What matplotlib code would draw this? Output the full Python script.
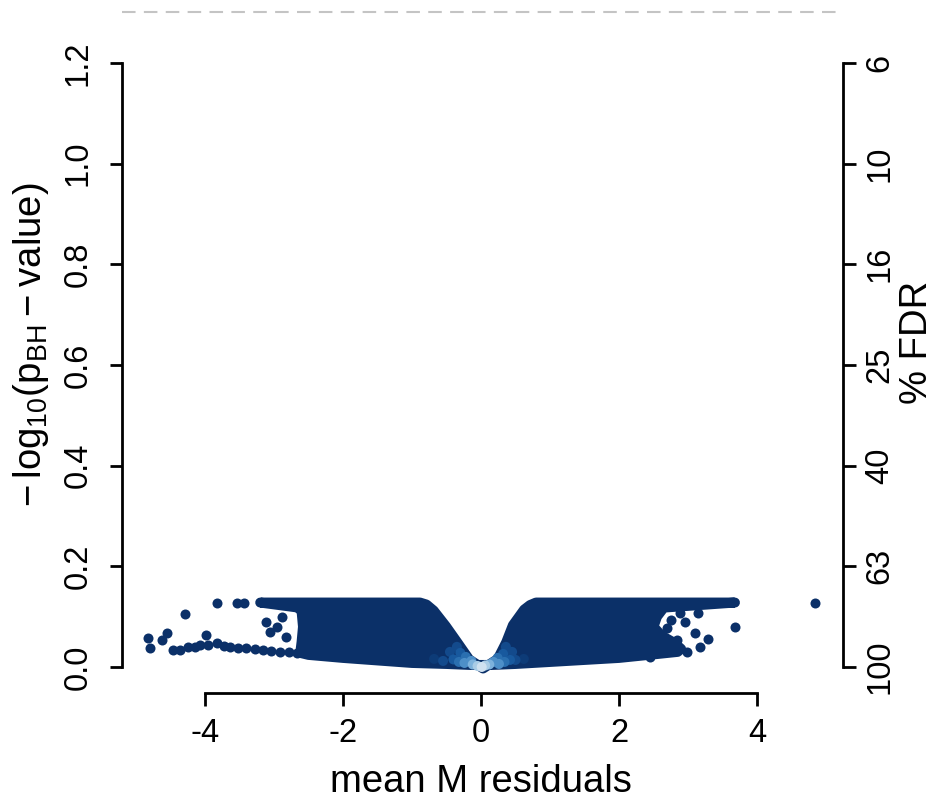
import matplotlib
matplotlib.use('Agg')
import matplotlib.pyplot as plt
import numpy as np

plt.rcParams['font.family'] = ['Liberation Sans', 'DejaVu Sans']
plt.rcParams['axes.unicode_minus'] = False
plt.rcParams['mathtext.fontset'] = 'custom'
plt.rcParams['mathtext.rm'] = 'Liberation Sans'

# dense part of the cloud: outline of the point centres
env_x = [-3.20, -0.884, -0.79, -0.686, -0.509, -0.339, -0.171, 0.03,
         0.243, 0.365, 0.462, 0.625, 0.71, 0.797, 3.68,
         2.65, 2.55, 2.50, 2.62, 2.80, 2.90, 2.85,
         2.50, 2.00, 1.50, 1.00, 0.50, 0.15, -0.15, -0.50, -1.00, -1.50, -2.00, -2.50, -2.62,
         -2.60, -2.58, -2.60, -2.65]
env_y = [0.128, 0.128, 0.124, 0.112, 0.081, 0.048, 0.015, -0.003,
         0.016, 0.049, 0.083, 0.114, 0.123, 0.128, 0.128,
         0.118, 0.100, 0.080, 0.062, 0.048, 0.036, 0.030,
         0.025, 0.018, 0.014, 0.010, 0.006, 0.004, 0.004, 0.006, 0.008, 0.013, 0.018, 0.024, 0.028,
         0.050, 0.080, 0.110, 0.118]

# sparse points outside the dense cloud
out_x = [-3.83, -3.54, -3.44, -4.29, -4.82, -4.80, -4.63, -4.55, -4.46, -4.36,
         -3.98, -4.07, -3.83, -3.11, -3.06, -2.96, -2.89, -2.82,
         -4.25, -4.15, -3.95, -3.72, -3.64, -3.52, -3.40, -3.28, -3.16, -3.04, -2.91, -2.79, -2.67,
         4.84, 3.68, 3.15, 2.96, 3.10, 3.29, 3.17, 2.98, 2.84, 2.88, 2.76, 2.69, 2.62, 2.45]
out_y = [0.128, 0.128, 0.128, 0.105, 0.057, 0.037, 0.054, 0.068, 0.034, 0.034,
         0.064, 0.044, 0.048, 0.090, 0.070, 0.080, 0.100, 0.060,
         0.040, 0.040, 0.044, 0.042, 0.040, 0.038, 0.037, 0.035, 0.034, 0.032, 0.030, 0.029, 0.027,
         0.128, 0.080, 0.107, 0.090, 0.067, 0.055, 0.040, 0.030, 0.054, 0.107, 0.093, 0.077, 0.030, 0.020]

# high density points near the origin (lighter colours)
glow_x = [-0.68, 0.62,
          -0.55, -0.45, -0.35, 0.36, 0.45, 0.50,
          -0.40, -0.30, 0.32, 0.42,
          -0.32, -0.22, 0.24, 0.34,
          -0.24, -0.14, 0.18, 0.26,
          -0.12, 0.12,
          -0.05, 0.06, 0.01]
glow_y = [0.016, 0.016,
          0.012, 0.030, 0.040, 0.040, 0.030, 0.014,
          0.015, 0.028, 0.026, 0.014,
          0.010, 0.020, 0.018, 0.010,
          0.008, 0.012, 0.010, 0.006,
          0.005, 0.005,
          0.002, 0.003, 0.000]
glow_c = ['#0D3B77'] * 2 + ['#134A8C'] * 6 + ['#18599E'] * 4 + ['#2A6FB0'] * 4 + \
         ['#4D8FC8'] * 4 + ['#7DB2DC'] * 2 + ['#A9CCE6'] * 2 + ['#CFE1F0']

y_ticks = [0.0, 0.2, 0.4, 0.6, 0.8, 1.0, 1.2]
y_labels = ['0.0', '0.2', '0.4', '0.6', '0.8', '1.0', '1.2']
fdr_labels = ['100', '63', '40', '25', '16', '10', '6']
x_ticks = [-4, -2, 0, 2, 4]
x_labels = ['-4', '-2', '0', '2', '4']
fdr_line = -np.log10(0.05)

navy = '#0B3068'
fig = plt.figure(figsize=(9.35, 8), dpi=100)
ax = fig.add_axes([122 / 935, 1 - 693 / 800, (843 - 122) / 935, 693 / 800])
ax.set_xlim(-5.203, 5.246)
ax.set_ylim(-0.0517, 1.3252)

ax.fill(env_x, env_y, facecolor=navy, edgecolor=navy, linewidth=7.2, joinstyle='round', zorder=2)
ax.scatter(out_x, out_y, s=52, color=navy, linewidths=0, zorder=3)
ax.scatter(glow_x, glow_y, s=52, c=glow_c, linewidths=0, zorder=4)
ax.axhline(fdr_line, color='#C4C4C4', linewidth=1.5, linestyle=(0, (6.5, 4)), zorder=1)

for s in ['top', 'right']:
    ax.spines[s].set_visible(False)
ax.spines['left'].set_bounds(0, 1.2)
ax.spines['bottom'].set_bounds(-4, 4)
for s in ['left', 'bottom']:
    ax.spines[s].set_linewidth(2)

ax.set_xticks(x_ticks)
ax.set_xticklabels(x_labels, fontsize=23.5)
ax.set_yticks(y_ticks)
ax.set_yticklabels(y_labels, fontsize=23.5, rotation=90, va='center')
ax.tick_params(direction='out', length=9, width=2)
ax.tick_params(axis='x', pad=9)
ax.tick_params(axis='y', pad=11.5)

ax2 = ax.twinx()
ax2.set_ylim(ax.get_ylim())
for s in ['top', 'left', 'bottom']:
    ax2.spines[s].set_visible(False)
ax2.spines['right'].set_bounds(0, 1.2)
ax2.spines['right'].set_linewidth(2)
ax2.set_yticks(y_ticks)
ax2.set_yticklabels(fdr_labels, fontsize=23.5, rotation=90, va='center')
ax2.tick_params(direction='out', length=9, width=2, pad=6.5)

fig.text(481 / 935, 1 - 782 / 800, 'mean M residuals', fontsize=27.5, ha='center', va='center')
fig.text(31 / 935, 1 - 345 / 800, r'$\mathregular{-\,log_{10}(p_{BH}-value)}$', fontsize=27.5,
         rotation=90, ha='center', va='center')
fig.text(917 / 935, 1 - 342 / 800, '% FDR', fontsize=27.5, rotation=90, ha='center', va='center')

plt.savefig('out.png', dpi=100, facecolor='white')
plt.close()
